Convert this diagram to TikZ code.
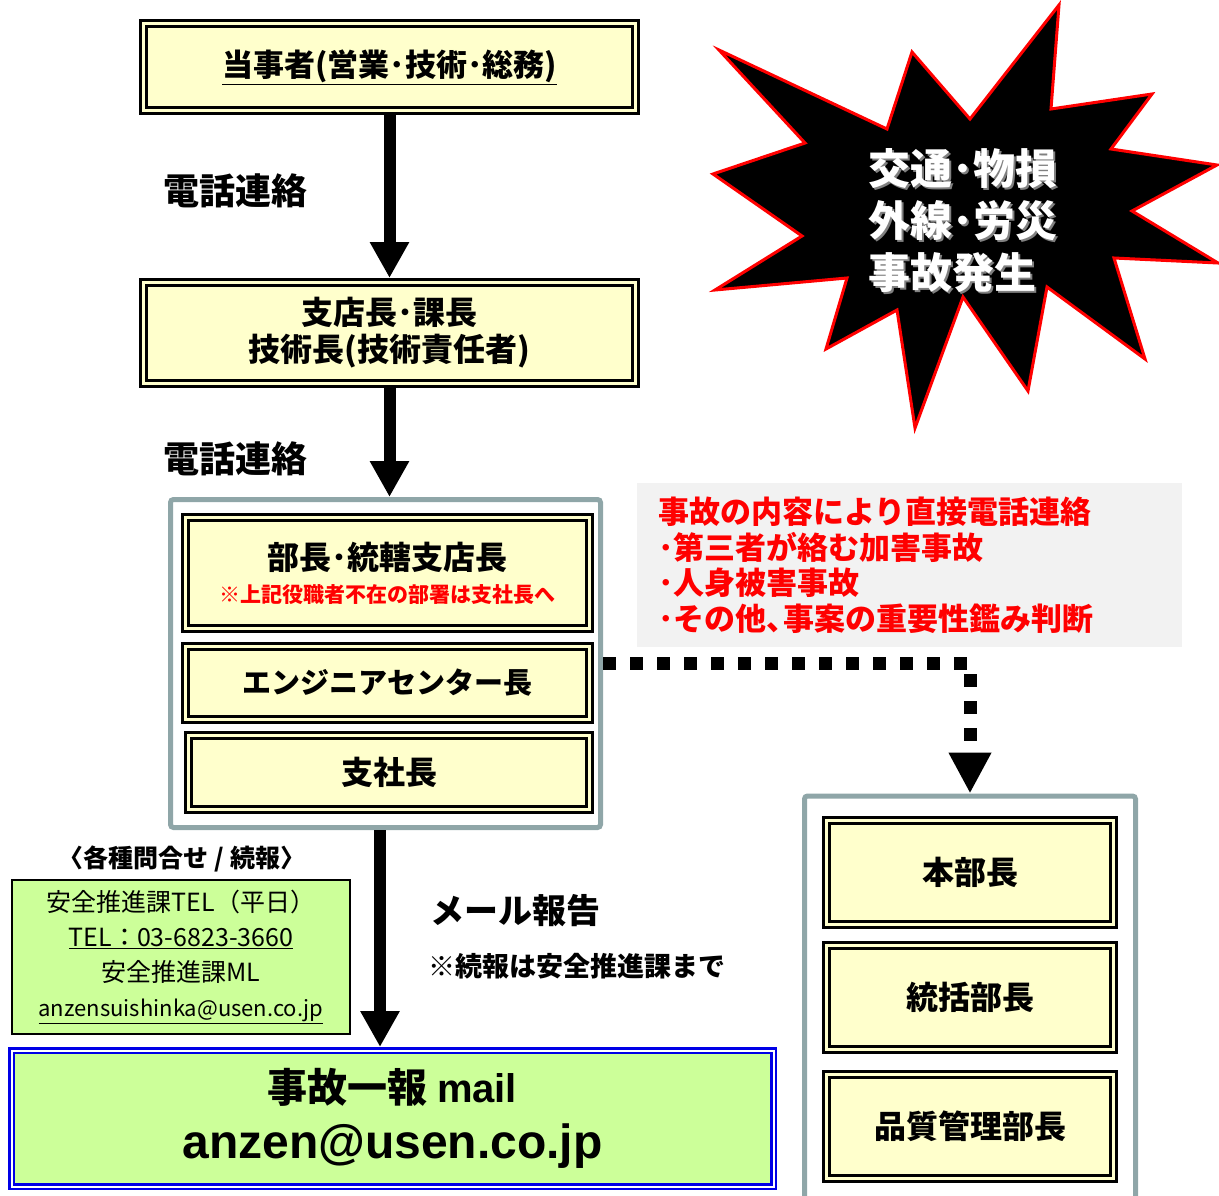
\documentclass[tikz,border=0pt]{standalone}
\usepackage{fontspec}
\setmainfont{Noto Sans CJK JP}
\newfontfamily\arialfont{Liberation Sans}
\usetikzlibrary{arrows.meta}

\definecolor{boxyellow}{RGB}{255,255,204}
\definecolor{mailgreen}{RGB}{204,255,153}
\definecolor{framegray}{RGB}{143,166,168}
\definecolor{notegray}{RGB}{242,242,242}
\definecolor{mailblue}{RGB}{0,0,230}

\begin{document}
\begin{tikzpicture}[x=1pt, y=-1pt,
    rolebox/.style={draw=black, double=boxyellow, line width=3, double distance=3,
      outer sep=4.5, fill=boxyellow, inner sep=0, align=center,
      font=\bfseries\fontsize{32}{37}\selectfont},
    framebox/.style={draw=framegray, line width=5, fill=white, rounded corners=3, inner sep=0},
    bigarrow/.style={line width=12, -{Triangle[length=36pt, width=37pt]}},
    dotarrow/.style={line width=13, dash pattern=on 13pt off 14pt, -{Triangle[length=41pt, width=40pt]}},
    calllabel/.style={anchor=west, inner sep=0, font=\bfseries\fontsize{36}{40}\selectfont}]

    \useasboundingbox (0, 0) rectangle (1219, 1196);

    % accident burst
    \draw[red, line width=3, fill=black, line join=miter]
      (1059, 5) -- (1051, 109) -- (1152, 94) -- (1111, 149) -- (1217, 165)
      -- (1132, 211) -- (1218, 263) -- (1114, 258) -- (1145, 359) -- (1047, 287)
      -- (1028, 391) -- (963, 297) -- (915, 428) -- (897, 310) -- (826, 349)
      -- (847, 278) -- (715, 290) -- (802, 236) -- (713, 174) -- (805, 143)
      -- (719, 50) -- (887, 129) -- (912, 52) -- (970, 119) -- cycle;
    \node[anchor=west, align=left, inner sep=0, text=black!50,
      font=\bfseries\fontsize{42}{52}\selectfont] (burstshadow) at (870, 223)
      {交通･物損\\外線･労災\\事故発生};
    \node[anchor=west, align=left, inner sep=0, text=white,
      font=\bfseries\fontsize{42}{52}\selectfont] (burst) at (868, 221)
      {交通･物損\\外線･労災\\事故発生};

    % chain of phone calls
    \node[rolebox, minimum width=492, minimum height=87] (staff) at (389.5, 67)
      {\fontsize{31}{37}\selectfont\underline{当事者(営業･技術･総務)}};
    \node[rolebox, minimum width=492, minimum height=101] (branch) at (389.5, 333)
      {支店長･課長\\技術長(技術責任者)};

    \node[framebox, minimum width=430, minimum height=328] (grp) at (385.5, 663.5) {};
    \node[rolebox, minimum width=404, minimum height=111, font=\bfseries\fontsize{32}{33}\selectfont]
      (head) at (387.5, 573)
      {部長･統轄支店長\\{\fontsize{21}{33}\selectfont\color{red}※上記役職者不在の部署は支社長へ}};
    \node[rolebox, minimum width=404, minimum height=73, font=\bfseries\fontsize{29}{34}\selectfont]
      (engc) at (387.5, 683) {エンジニアセンター長};
    \node[rolebox, minimum width=401, minimum height=74] (area) at (389, 772.5) {支社長};

    \draw[bigarrow] (staff.south) -- (branch.north);
    \draw[bigarrow] (branch.south) -- (branch.south |- grp.north);
    \node[calllabel] (call1) at (163, 191) {電話連絡};
    \node[calllabel] (call2) at (163, 459) {電話連絡};

    % direct call note
    \node[anchor=north west, fill=notegray, minimum width=545, minimum height=164,
      inner xsep=21, inner ysep=0, text width=503, align=left, text=red,
      font=\bfseries\fontsize{31}{35.7}\selectfont] (note) at (637, 483)
      {事故の内容により直接電話連絡\\･第三者が絡む加害事故\\･人身被害事故\\･その他、\kern-0.45em 事案の重要性鑑み判断};

    % head office
    \node[framebox, minimum width=331, minimum height=434] (hq) at (970, 1013) {};
    \node[rolebox, minimum width=287, minimum height=104] (hq1) at (970, 872.5) {本部長};
    \node[rolebox, minimum width=287, minimum height=104] (hq2) at (970, 997.5) {統括部長};
    \node[rolebox, minimum width=287, minimum height=104] (hq3) at (970, 1126.5) {品質管理部長};

    \coordinate (bend) at (970, 663);
    \draw[dotarrow, line join=miter] (grp.east |- bend) -- (bend) -- (hq.north);

    % mail report
    \node[draw=mailblue, double=white, line width=2.5, double distance=2, outer sep=3.5,
      fill=mailgreen, minimum width=762, minimum height=136, inner sep=0, align=center,
      font=\bfseries\fontsize{44}{56}\selectfont] (mail) at (392.5, 1118.5)
      {{\fontsize{40}{48}\selectfont 事故一報 {\arialfont mail}}\\
       {\arialfont\fontsize{48}{56}\selectfont anzen@usen.co.jp}};
    \coordinate (mailin) at (380, 1047);
    \draw[bigarrow] (grp.south -| mailin) -- (mailin);
    \node[anchor=west, inner sep=0, font=\bfseries\fontsize{34}{40}\selectfont] (mailnote) at (430, 911) {メール報告};
    \node[anchor=west, inner sep=0, font=\bfseries\fontsize{27}{32}\selectfont] (follow) at (428, 966) {※続報は安全推進課まで};

    % contact
    \node[inner sep=0, font=\bfseries\fontsize{25}{30}\selectfont] (inqlabel) at (182, 859) {〈各種問合せ / 続報〉};
    \node[draw, line width=2, fill=mailgreen, minimum width=338, minimum height=154, inner sep=0,
      align=center, font=\fontsize{25}{35}\selectfont] (contact) at (181, 957)
      {安全推進課TEL（平日）\\\underline{TEL：03-6823-3660}\\安全推進課ML\\
       {\fontsize{22}{35}\selectfont\underline{anzensuishinka@usen.co.jp}}};

  \end{tikzpicture}
\end{document}
